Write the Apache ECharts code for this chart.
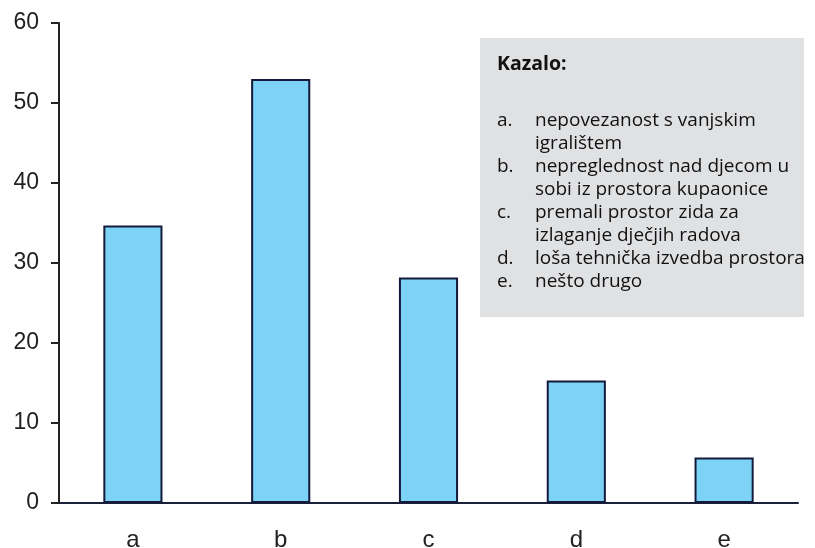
<!DOCTYPE html>
<html><head><meta charset="utf-8">
<script src="https://cdn.jsdelivr.net/npm/echarts@6/dist/echarts.min.js"></script>
<style>html,body{margin:0;padding:0;background:#fff}#c{width:815px;height:548px}</style>
</head><body><div id="c"></div>
<script>
var categories = ['a', 'b', 'c', 'd', 'e'];
var values = [34.7, 53, 28.2, 15.3, 5.7];
var yTicks = [0, 10, 20, 30, 40, 50, 60];
var legendTitle = 'Kazalo:';
var legendKeys = ['a.', '', 'b.', '', 'c.', '', 'd.', 'e.'];
var legendLines = ['nepovezanost s vanjskim', 'igralištem', 'nepreglednost nad djecom u', 'sobi iz prostora kupaonice', 'premali prostor zida za', 'izlaganje dječjih radova', 'loša tehnička izvedba prostora', 'nešto drugo'];

var chart = echarts.init(document.getElementById('c'));
var gfx = [{type:'rect', shape:{x:480, y:38, width:324, height:279}, style:{fill:'#e0e1e3'}, z:10},
  {type:'text', x:497, y:64, style:{text:legendTitle, font:'bold 19.5px "Open Sans"', fill:'#111', verticalAlign:'middle'}, z:11}];
for (var i = 0; i < legendLines.length; i++) {
  var y = 121 + i * 23;
  if (legendKeys[i]) gfx.push({type:'text', x:497, y:y, style:{text:legendKeys[i], font:'19px "Open Sans"', fill:'#111', verticalAlign:'middle'}, z:11});
  gfx.push({type:'text', x:535, y:y, style:{text:legendLines[i], font:'19px "Open Sans"', fill:'#111', verticalAlign:'middle'}, z:11});
}
chart.setOption({
  animation:false,
  grid:{left:59, right:17, top:23, bottom:45, containLabel:false, outerBoundsMode:'none'},
  xAxis:{type:'category', data:categories,
    axisLine:{lineStyle:{color:'#1a1f3a', width:2}},
    axisTick:{length:8, lineStyle:{color:'#1a1f3a', width:2}},
    axisLabel:{color:'#222', fontSize:24, fontFamily:'Liberation Sans', margin:25}},
  yAxis:{type:'value', min:yTicks[0], max:yTicks[yTicks.length-1], interval:10,
    splitLine:{show:false},
    axisLine:{show:true, lineStyle:{color:'#222', width:2}},
    axisTick:{show:true, length:8, lineStyle:{color:'#222', width:2}},
    axisLabel:{color:'#222', fontSize:23, fontFamily:'Liberation Sans', margin:20}},
  series:[{type:'bar', data:values, barWidth:'40%',
    itemStyle:{color:'#7cd3f6', borderColor:'#141a3a', borderWidth:2}}],
  graphic:gfx
});
</script></body></html>
